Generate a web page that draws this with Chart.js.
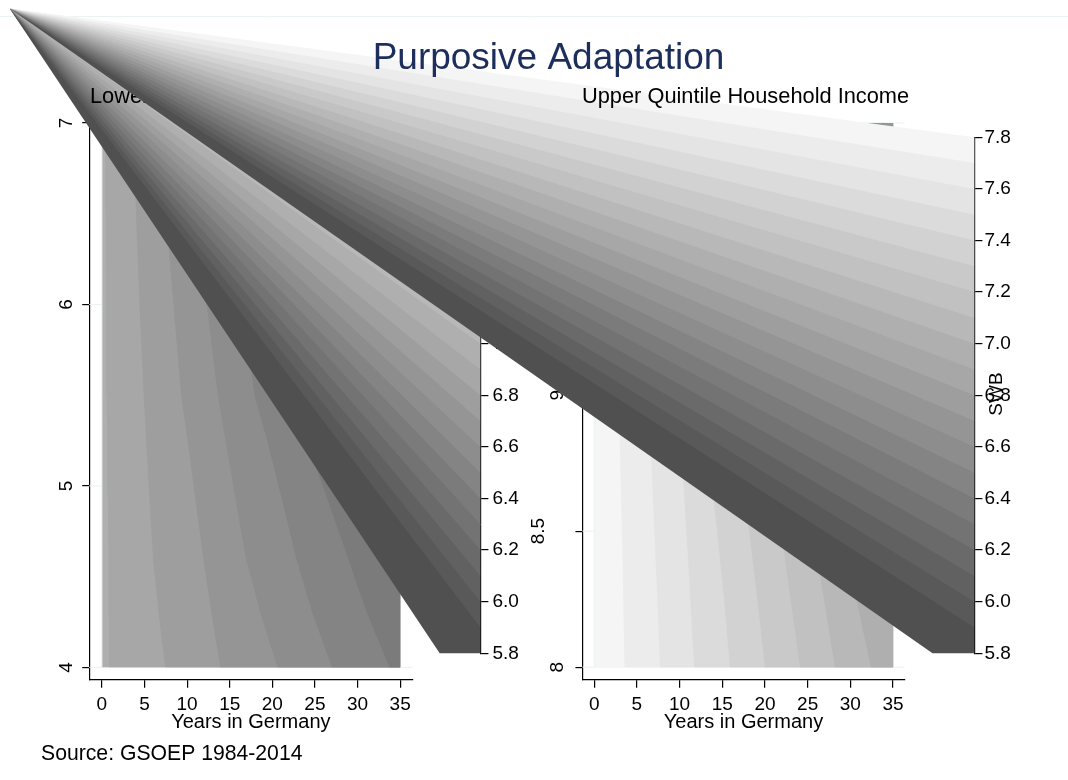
<!DOCTYPE html>
<html>
<head>
<meta charset="utf-8">
<title>Purposive Adaptation</title>
<script src="https://cdn.jsdelivr.net/npm/chart.js@4"></script>
<style>
  html, body { margin: 0; padding: 0; background: #fff; }
  canvas { display: block; }
</style>
</head>
<body>
<canvas id="chart" width="1068" height="780"></canvas>
<script>
// Tick labels
const yearTicks = [0, 5, 10, 15, 20, 25, 30, 35];
const lowerSwbTicks = [4, 5, 6, 7];
const upperSwbTicks = [8, 8.5, 9, 9.5, 10];
const lowerBarTicks = [5.8, 6.0, 6.2, 6.4, 6.6, 6.8, 7.0];
const upperBarTicks = [5.8, 6.0, 6.2, 6.4, 6.6, 6.8, 7.0, 7.2, 7.4, 7.6, 7.8];

// Colour bar levels, one grey per 0.1 step, dark to light
const barGreys = ['#505050', '#595959', '#616161', '#6a6a6a', '#737373', '#7b7b7b', '#848484',
  '#8d8d8d', '#959595', '#9e9e9e', '#a7a7a7', '#afafaf', '#b8b8b8', '#c1c1c1', '#c9c9c9',
  '#d2d2d2', '#dbdbdb', '#e4e4e4', '#ececec', '#f5f5f5'];
const lowerBarLevels = [5.8, 5.9, 6.0, 6.1, 6.2, 6.3, 6.4, 6.5, 6.6, 6.7, 6.8, 6.9, 7.0, 7.1];
const upperBarLevels = [5.8, 5.9, 6.0, 6.1, 6.2, 6.3, 6.4, 6.5, 6.6, 6.7, 6.8, 6.9, 7.0,
  7.1, 7.2, 7.3, 7.4, 7.5, 7.6, 7.7, 7.8];

// Contours: years in Germany where each band starts, read at each y level
const lowerLevels = [4, 4.3, 4.6, 4.95, 5.25, 5.5, 6, 6.5, 7];
const lowerContours = [
  [0.85, 0.8, 0.75, 0.7, 0.62, 0.57, 0.5, 0.45, 0.4],
  [7.44, 6.65, 6.0, 5.55, 5.2, 4.9, 4.4, 4.0, 3.6],
  [13.9, 12.85, 11.9, 10.9, 10.05, 9.3, 8.4, 7.5, 6.8],
  [20.6, 18.6, 16.9, 15.6, 14.5, 13.6, 12.3, 11, 10],
  [27, 24.7, 22.8, 21, 19.4, 17.9, 16.5, 15, 14],
  [33.75, 31.1, 28.9, 26.3, 24, 22, 20, 18, 17]
];
const lowerContourGreys = ['#afafaf', '#a7a7a7', '#9e9e9e', '#959595', '#8d8d8d', '#848484', '#7b7b7b'];

const upperLevels = [8, 8.25, 8.5, 8.75, 9, 10];
const upperContours = [
  [3.55, 3.4, 3.25, 3.05, 2.9, 2.2],
  [7.7, 7.4, 7.05, 6.7, 6.3, 5],
  [11.7, 11.25, 10.8, 10.3, 9.8, 8],
  [15.9, 15.2, 14.4, 13.5, 12.8, 10.5],
  [20, 19.1, 18.15, 17.1, 16.2, 13],
  [24.1, 23, 21.9, 20.8, 19.7, 16],
  [28.2, 26.9, 25.6, 24.2, 23, 19],
  [32.4, 30.7, 29, 27.6, 26, 21],
  [35, 35, 33, 31, 29.5, 24],
  [35, 35, 35, 34, 33, 27],
  [35, 35, 35, 35, 35, 31]
];
const upperContourGreys = ['#f5f5f5', '#ececec', '#e4e4e4', '#dbdbdb', '#d2d2d2', '#c9c9c9',
  '#c1c1c1', '#b8b8b8', '#afafaf', '#a7a7a7', '#9e9e9e', '#959595'];

// The legend polygons all run back to one corner of the page
const fanCornerLevel = 8.3;
const lowerFanCorner = -10.57;
const upperFanCorner = -22.03;

const FONT = 'Liberation Sans, Arial, sans-serif';
const INK = '#000000';
const PALE = '#eaf2f3';

// Where each axis sits on the page
const scaleBoxes = {
  frameX:  { left: 0, right: 1068, top: 16, bottom: 16 },
  lowerX:  { left: 89.2, right: 412.5, top: 679.7, bottom: 734.5 },
  lowerY:  { left: 40, right: 89.2, top: 123, bottom: 679.7 },
  upperX:  { left: 582.4, right: 904.6, top: 679.7, bottom: 734.5 },
  upperY:  { left: 530, right: 582.4, top: 123, bottom: 679.7 },
  lowerBarX: { left: 439.7, right: 480.4, top: 0, bottom: 0 },
  lowerBar:  { left: 480.4, right: 530, top: 317.9, bottom: 653.3 },
  upperBarX: { left: 932.5, right: 974.4, top: 0, bottom: 0 },
  upperBar:  { left: 974.4, right: 1030, top: 137.3, bottom: 653.3 }
};

// Stata draws panel by panel, so the first subtitle goes between the two fans
const lowerSubtitle = { text: 'Lower Quintile Household Income', x: 90, y: 96.5, size: 21.8 };
const pageTexts = [
  { text: 'SWB', x: 997, y: 394, size: 19, rotate: true },
  { text: 'Upper Quintile Household Income', x: 582, y: 96.5, size: 21.8 },
  { text: 'Purposive Adaptation', x: 548.5, y: 59, size: 37, color: '#1c2e5c', center: true },
  { text: 'Source: GSOEP 1984-2014', x: 41, y: 754, size: 21.2 }
];

function polygon(points, color, xAxisID, yAxisID, edge) {
  return {
    type: 'line',
    data: points,
    xAxisID: xAxisID,
    yAxisID: yAxisID,
    backgroundColor: color,
    borderColor: edge || color,
    borderWidth: edge ? 1 : 0,
    fill: 'shape',
    pointRadius: 0,
    tension: 0,
    clip: false
  };
}

function gridLines(ticks, x0, x1, xAxisID, yAxisID) {
  return ticks.map(t => ({
    type: 'line',
    data: [{ x: x0, y: t }, { x: x1, y: t }],
    xAxisID: xAxisID,
    yAxisID: yAxisID,
    borderColor: PALE,
    borderWidth: 1,
    pointRadius: 0,
    fill: false,
    clip: false
  }));
}

function contourBands(levels, contours, greys, xAxisID, yAxisID) {
  const first = levels[0];
  const last = levels[levels.length - 1];
  const lastYear = yearTicks[yearTicks.length - 1];
  const out = [polygon([
    { x: 0, y: first }, { x: 0, y: last }, { x: lastYear, y: last }, { x: lastYear, y: first }
  ], greys[0], xAxisID, yAxisID, PALE)];
  contours.forEach((years, i) => {
    const pts = years.map((x, j) => ({ x: x, y: levels[j] }));
    pts.push({ x: lastYear, y: last }, { x: lastYear, y: first });
    out.push(polygon(pts, greys[i + 1], xAxisID, yAxisID));
  });
  return out;
}

function legendFan(levels, corner, xAxisID, yAxisID) {
  const out = [];
  // top band first, each lower one paints over the one before
  for (let i = levels.length - 2; i >= 0; i--) {
    out.push(polygon([
      { x: corner, y: fanCornerLevel },
      { x: 0, y: levels[i] },
      { x: 1, y: levels[i] },
      { x: 1, y: levels[i + 1] }
    ], barGreys[i], xAxisID, yAxisID));
  }
  return out;
}

function tickList(values) {
  return scale => { scale.ticks = values.map(v => ({ value: v })); };
}

function yearAxis(min, max) {
  return {
    type: 'linear',
    axis: 'x',
    position: 'bottom',
    min: min,
    max: max,
    afterBuildTicks: tickList(yearTicks),
    border: { color: INK, width: 1.2 },
    grid: { drawOnChartArea: false, color: INK, tickLength: 8, lineWidth: 1.2 },
    ticks: { color: INK, font: { family: FONT, size: 19 }, padding: 6, maxRotation: 0, autoSkip: false, callback: v => String(v) },
    title: { display: true, text: 'Years in Germany', color: INK, font: { family: FONT, size: 20 }, padding: 0 }
  };
}

function swbAxis(min, max, ticks, padding) {
  return {
    type: 'linear',
    axis: 'y',
    position: 'left',
    min: min,
    max: max,
    afterBuildTicks: tickList(ticks),
    border: { color: INK, width: 1.2 },
    grid: { drawOnChartArea: false, color: INK, tickLength: 7, lineWidth: 1.2 },
    ticks: {
      color: INK,
      font: { family: FONT, size: 19, lineHeight: 1.03 },
      padding: padding,
      minRotation: 90,
      maxRotation: 90,
      crossAlign: 'center',
      autoSkip: false,
      // half-way labels sit further out from the axis, blank lines push them over
      callback: v => (v % 1 ? [String(v), '', ''] : String(v))
    }
  };
}

function barAxis(min, max, ticks, padding) {
  return {
    type: 'linear',
    axis: 'y',
    position: 'right',
    min: min,
    max: max,
    afterBuildTicks: tickList(ticks),
    border: { color: INK, width: 1.2 },
    grid: { drawOnChartArea: false, color: INK, tickLength: 8, lineWidth: 1.2 },
    ticks: { color: INK, font: { family: FONT, size: 19 }, padding: padding, autoSkip: false, callback: v => v.toFixed(1) }
  };
}

function hiddenUnitAxis() {
  return { type: 'linear', axis: 'x', position: 'top', display: false, min: 0, max: 1 };
}

const placeScales = {
  id: 'placeScales',
  afterLayout(chart) {
    Object.keys(scaleBoxes).forEach(id => {
      const scale = chart.scales[id];
      const box = scaleBoxes[id];
      Object.assign(scale, box, { width: box.right - box.left, height: box.bottom - box.top });
      scale.configure();
    });
    // fills get clipped to the chart area, so open it to the whole page
    chart.chartArea = { left: 0, top: 0, right: chart.width, bottom: chart.height, width: chart.width, height: chart.height };
  }
};

function drawText(ctx, t) {
  ctx.save();
  ctx.translate(t.x, t.y);
  if (t.rotate) ctx.rotate(-Math.PI / 2);
  ctx.font = t.size + 'px ' + FONT;
  ctx.fillStyle = t.color || INK;
  ctx.textAlign = t.center || t.rotate ? 'center' : 'left';
  ctx.textBaseline = 'middle';
  ctx.fillText(t.text, 0, 0);
  ctx.restore();
}

const pageText = {
  id: 'pageText',
  afterDatasetDraw(chart, args) {
    if (chart.data.datasets[args.index].endsLowerPanel) drawText(chart.ctx, lowerSubtitle);
  },
  afterDatasetsDraw(chart) {
    pageTexts.forEach(t => drawText(chart.ctx, t));
  }
};

const lowerFan = legendFan(lowerBarLevels, lowerFanCorner, 'lowerBarX', 'lowerBar');
lowerFan[lowerFan.length - 1].endsLowerPanel = true;

// Painter's order, Chart.js draws the first dataset on top so it gets reversed below
const layers = [
  ...gridLines(lowerSwbTicks, -1.49, 36.45, 'lowerX', 'lowerY'),
  ...gridLines(upperSwbTicks, -1.38, 36.35, 'upperX', 'upperY'),
  ...contourBands(lowerLevels, lowerContours, lowerContourGreys, 'lowerX', 'lowerY'),
  ...lowerFan,
  ...contourBands(upperLevels, upperContours, upperContourGreys, 'upperX', 'upperY'),
  ...legendFan(upperBarLevels, upperFanCorner, 'upperBarX', 'upperBar')
];

new Chart(document.getElementById('chart'), {
  type: 'line',
  data: { datasets: layers.reverse() },
  options: {
    responsive: false,
    animation: false,
    layout: { padding: 0 },
    plugins: { legend: { display: false }, title: { display: false }, tooltip: { enabled: false } },
    scales: {
      frameX: {
        type: 'linear', axis: 'x', position: 'top', min: 0, max: 1,
        border: { color: PALE, width: 1 },
        grid: { display: false, drawTicks: false },
        ticks: { display: false }
      },
      lowerX: yearAxis(-1.49, 36.45),
      lowerY: swbAxis(3.932, 7, lowerSwbTicks, 10),
      upperX: yearAxis(-1.38, 36.35),
      upperY: swbAxis(7.954, 10, upperSwbTicks, 4),
      lowerBarX: hiddenUnitAxis(),
      lowerBar: barAxis(5.8, 7.1, lowerBarTicks, 4),
      upperBarX: hiddenUnitAxis(),
      upperBar: barAxis(5.8, 7.8, upperBarTicks, 2)
    }
  },
  plugins: [placeScales, pageText]
});
</script>
</body>
</html>
